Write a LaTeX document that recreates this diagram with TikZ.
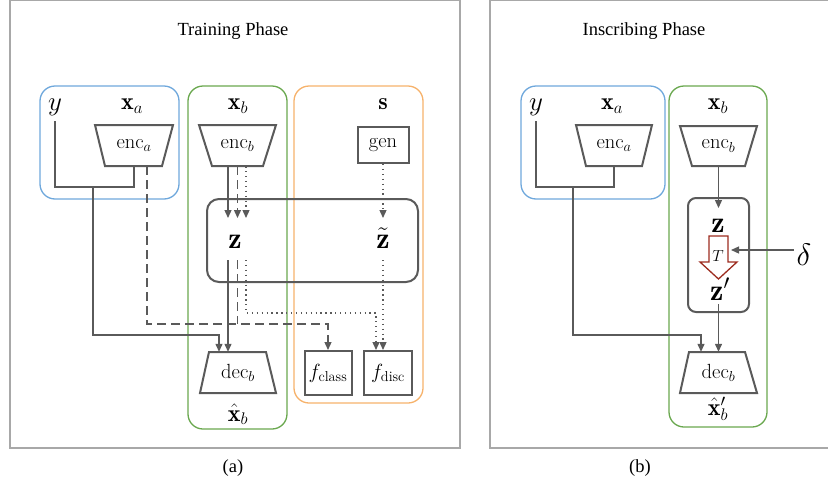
\RequirePackage{fix-cm}
\documentclass[tikz,border=0pt]{standalone}
\usepackage{fontspec}
\newfontfamily\tnr{Liberation Serif}
\usetikzlibrary{arrows.meta}
\definecolor{dgray}{HTML}{5A5A5A}
\definecolor{fgray}{HTML}{A8A8A8}
\definecolor{cblue}{HTML}{6FA8DC}
\definecolor{cgreen}{HTML}{6AA84F}
\definecolor{corange}{HTML}{F6B26B}
\definecolor{cred}{HTML}{9C2B1E}
\tikzset{
 frame/.style={draw=fgray, line width=1.3pt},
 grp/.style={line width=1.3pt, rounded corners=15pt},
 blk/.style={draw=dgray, line width=2pt},
 conn/.style={draw=dgray, line width=1.3pt},
 arr/.style={conn, -{Triangle[length=8pt,width=7pt]}},
 dsh/.style={dash pattern=on 9pt off 5pt},
 dtt/.style={dash pattern=on 1.3pt off 3.6pt},
 lbl/.style={inner sep=0pt, anchor=base, font=\fontsize{24}{28}\selectfont},
 zl/.style={inner sep=0pt, anchor=base, font=\fontsize{30}{34}\selectfont},
 big/.style={inner sep=0pt, font=\fontsize{27}{31}\selectfont},
 box/.style={inner sep=0pt, font=\fontsize{20.5}{24}\selectfont},
 ttl/.style={inner sep=0pt, anchor=base, font=\tnr\fontsize{18.5}{22}\selectfont}
}
\begin{document}
\begin{tikzpicture}[x=1pt,y=-1pt]
\useasboundingbox (0,0) rectangle (828,493);
% ---------------- left panel ----------------
\draw[frame] (10,0.8) rectangle (460,448);
\node[ttl] (tA) at (233,35) {Training Phase};
\node[ttl] (capA) at (233,472) {(a)};
\draw[grp, draw=cblue] (40,86) rectangle (179,199);
\draw[grp, draw=cgreen] (188,86) rectangle (287,429);
\draw[grp, draw=corange] (294,86) rectangle (423,403);
\node[blk, rounded corners=12pt, minimum width=211pt, minimum height=83pt] (bigbox) at (312.5,240.5) {};
\node[big, anchor=base] (yA) at (55,110) {$y$};
\node[lbl] (xa) at (132,109.5) {$\mathbf{x}_a$};
\draw[blk] (95,125) -- (173,125) -- (162,166) -- (105,166) -- cycle;
\node[box, minimum width=57pt, minimum height=41pt] (enca) at (134,145.5) {$\mathrm{enc}_a$};
\node[lbl] (xb) at (238,109.5) {$\mathbf{x}_b$};
\draw[blk] (199,125) -- (276,125) -- (263,166) -- (212,166) -- cycle;
\node[box, minimum width=51pt, minimum height=41pt] (encb) at (237.5,145.5) {$\mathrm{enc}_b$};
\node[lbl] (sA) at (383,109.5) {$\mathbf{s}$};
\node[blk, box, minimum width=51pt, minimum height=36pt] (gen) at (383,145) {gen};
\node[zl] (zA) at (235,248) {$\mathbf{z}$};
\node[zl] (ztA) at (383,248) {$\tilde{\mathbf{z}}$};
\draw[blk] (209,352) -- (266,352) -- (276,393) -- (200,393) -- cycle;
\node[box, minimum width=57pt, minimum height=41pt] (decbA) at (238,372.5) {$\mathrm{dec}_b$};
\node[lbl] (xhA) at (238,421) {$\hat{\mathbf{x}}_b$};
\node[blk, box, minimum width=47pt, minimum height=44pt] (fclass) at (328,373) {$f_{\mathrm{class}}$};
\node[blk, box, minimum width=48pt, minimum height=44pt] (fdisc) at (388,373) {$f_{\mathrm{disc}}$};
% helper coordinates
\path (0,335) coordinate (hA1) (0,324) coordinate (hA2) (0,313) coordinate (hA3)
      (0,218) coordinate (yIn) (0,260) coordinate (yOut) (0,187) coordinate (hM)
      (0,121) coordinate (yTop);
\coordinate (mA) at (93,187);
\coordinate (eaD) at ([xshift=13pt]enca.south);
\coordinate (cS) at ([xshift=-9.5pt]encb.south);
\coordinate (cD) at (encb.south);
\coordinate (cT) at ([xshift=8.5pt]encb.south);
\coordinate (dA1) at ([xshift=-19pt]decbA.north);
\coordinate (fd1) at ([xshift=-12pt]fdisc.north);
\coordinate (fd2) at ([xshift=-5pt]fdisc.north);
% connectors
\draw[conn] (yA |- yTop) |- (enca.south |- hM) -- (enca.south);
\draw[arr] (mA) |- (hA1 -| dA1) -- (dA1);
\draw[arr,dsh] (eaD) |- (fclass.north |- hA2) -- (fclass.north);
\draw[arr] (cS) -- (cS |- yIn);
\draw[arr,dsh] (cD) -- (cD |- yIn);
\draw[arr,dtt] (cT) -- (cT |- yIn);
\draw[arr,dtt] (gen.south) -- (gen.south |- yIn);
\draw[arr] (cS |- yOut) -- (cS |- decbA.north);
\draw[conn,dsh] (cD |- yOut) -- (cD |- hA2);
\draw[arr,dtt] (cT |- yOut) |- (hA3 -| fd1) -- (fd1);
\draw[arr,dtt] (gen.south |- yOut) -- (fd2);
% ---------------- right panel ----------------
\draw[frame] (490,0.8) rectangle (835,448);
\node[ttl] (tB) at (644,35) {Inscribing Phase};
\node[ttl] (capB) at (640,472) {(b)};
\draw[grp, draw=cblue] (521,86) rectangle (665,199);
\draw[grp, draw=cgreen] (669,86) rectangle (767,427);
\node[big, anchor=base] (yB) at (536,110) {$y$};
\node[lbl] (xaB) at (612,109.5) {$\mathbf{x}_a$};
\draw[blk] (576,125) -- (652,125) -- (642,166) -- (586,166) -- cycle;
\node[box, minimum width=56pt, minimum height=41pt] (encaB) at (614,145.5) {$\mathrm{enc}_a$};
\node[lbl] (xbB) at (718,109.5) {$\mathbf{x}_b$};
\draw[blk] (680,126) -- (757,126) -- (745,166) -- (692,166) -- cycle;
\node[box, minimum width=53pt, minimum height=40pt] (encbB) at (718.5,146) {$\mathrm{enc}_b$};
\node[blk, rounded corners=8pt, minimum width=61pt, minimum height=114pt] (zbox) at (718.5,255) {};
\node[zl] (zB) at (718,232) {$\mathbf{z}$};
\node[zl] (zpB) at (720,300) {$\mathbf{z}'$};
\draw[draw=cred, line width=1.3pt, line join=miter] (709,236) -- (728,236) -- (728,262) -- (737,262) -- (718.5,279) -- (700,262) -- (709,262) -- cycle;
\node[inner sep=0pt, font=\fontsize{16}{18}\selectfont] (TB) at (718,256) {$T$};
\node[inner sep=0pt, font=\fontsize{31}{35}\selectfont] (dl) at (804,255) {$\delta$};
\coordinate (Tr) at (731,250);
\draw[arr] ([xshift=-3pt]dl.west |- Tr) -- (Tr);
\draw[blk] (689,352) -- (745,352) -- (757,393) -- (680,393) -- cycle;
\node[box, minimum width=56pt, minimum height=41pt] (decbB) at (718.5,372.5) {$\mathrm{dec}_b$};
\node[lbl] (xhB) at (718,415) {$\hat{\mathbf{x}}_b'$};
\path (0,208) coordinate (zBin) (0,304) coordinate (zBout);
\coordinate (mB) at (573,187);
\coordinate (dB1) at ([xshift=-17.5pt]decbB.north);
\draw[conn] (yB |- yTop) |- (encaB.south |- hM) -- (encaB.south);
\draw[arr] (mB) |- (hA1 -| dB1) -- (dB1);
\draw[arr] (encbB.south) -- (encbB.south |- zBin);
\draw[arr] (encbB.south |- zBout) -- (decbB.north);
\end{tikzpicture}
\end{document}
